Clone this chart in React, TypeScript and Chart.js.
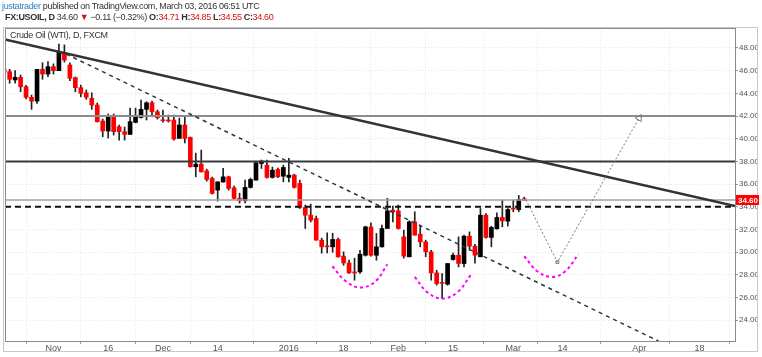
import React, { useEffect, useRef } from "react";
import { Chart, registerables } from "chart.js";
Chart.register(...registerables);

// Trading-day index of the first candle (0 = Nov 2, 2015)
const FIRST_INDEX = -9;

const opens = [
  46.12, 45.91, 45.18, 45.41, 44.58, 43.65, 43.32, 46.12, 45.7,
  46.35, 46.0, 47.58, 46.5, 45.38, 44.5, 44.05, 43.56, 42.97, 41.56,
  40.68, 42.0, 41.06, 40.62, 40.38, 41.44, 41.88, 42.59, 43.17, 42.38,
  41.65, 41.65, 41.65, 40.03, 41.21, 40.12, 37.53, 37.76, 37.17, 36.5,
  35.47, 36.18, 36.64, 35.67, 34.74, 34.53, 35.71, 36.35, 37.82, 37.67,
  36.59, 37.29, 36.7, 36.59, 36.79, 36.06, 33.94, 33.26, 32.97, 31.06,
  30.53, 30.47, 31.12, 29.65, 29.05, 28.26, 28.26, 29.73, 32.23, 29.73,
  30.47, 32.09, 33.7, 33.64, 31.35, 29.59, 32.67, 31.59, 30.91, 30.03,
  28.17, 27.3, 27.18, 29.35, 29.73, 29.0, 31.41, 30.53, 29.59, 33.26,
  31.3, 32.06, 33.06, 32.73, 33.85, 33.75, 34.71,
];
const highs = [
  46.3, 46.12, 46.0, 45.62, 44.7, 43.85, 46.12, 46.7, 46.79,
  46.6, 48.35, 48.27, 46.68, 45.45, 44.73, 44.29, 44.05, 43.15, 41.73,
  42.18, 42.18, 41.2, 41.03, 42.7, 42.7, 43.41, 43.26, 43.32, 42.53,
  42.53, 42.09, 42.09, 41.82, 41.91, 40.15, 38.73, 39.0, 37.32, 36.62,
  36.2, 37.38, 36.7, 35.82, 35.2, 36.35, 36.53, 37.99, 38.12, 38.12,
  37.5, 37.41, 37.67, 38.27, 36.88, 36.35, 34.15, 34.24, 33.18, 31.24,
  31.7, 31.67, 31.24, 30.03, 29.3, 29.47, 30.17, 32.29, 32.59, 31.65,
  32.38, 34.74, 34.06, 34.15, 31.94, 32.76, 33.56, 32.38, 31.06, 30.17,
  28.41, 28.12, 29.0, 29.91, 31.35, 31.5, 31.79, 30.7, 33.85, 33.41,
  32.29, 33.47, 34.59, 33.85, 34.59, 35.0, 34.85,
];
const lows = [
  45.7, 44.89, 44.89, 44.14, 43.5, 42.59, 43.12, 45.24, 45.47,
  45.7, 46.0, 46.76, 45.11, 44.14, 43.7, 43.47, 42.59, 41.47, 40.17,
  40.06, 40.32, 39.88, 39.88, 40.38, 41.4, 41.82, 41.65, 42.09, 41.73,
  41.47, 41.47, 39.88, 40.03, 39.62, 37.5, 36.64, 37.06, 36.26, 35.12,
  34.5, 36.18, 35.47, 34.65, 34.32, 34.35, 35.65, 36.35, 37.38, 36.53,
  36.53, 36.56, 36.2, 36.2, 35.65, 33.85, 32.09, 32.67, 31.06, 29.91,
  29.94, 29.99, 29.56, 28.85, 28.12, 27.53, 28.12, 29.65, 29.65, 29.29,
  30.44, 32.09, 32.67, 32.03, 29.47, 29.59, 31.5, 30.47, 29.59, 27.53,
  27.09, 25.91, 27.09, 29.29, 28.7, 28.7, 30.17, 29.03, 29.59, 31.24,
  30.47, 32.03, 32.23, 32.3, 33.56, 33.56, 34.55,
];
const closes = [
  45.86, 45.24, 45.41, 44.58, 43.65, 43.32, 46.12, 45.7, 46.35,
  46.0, 47.67, 46.94, 45.33, 44.5, 44.0, 43.65, 42.97, 41.5, 40.68,
  42.0, 40.62, 40.62, 40.38, 41.5, 42.0, 42.59, 43.17, 42.38, 41.85,
  41.59, 41.56, 39.97, 41.21, 40.03, 37.53, 37.76, 37.08, 36.41, 35.18,
  36.2, 36.64, 35.62, 34.74, 34.53, 35.71, 36.41, 37.88, 38.03, 36.59,
  37.23, 36.64, 37.47, 36.79, 35.71, 33.94, 33.26, 32.82, 31.06, 30.47,
  30.47, 31.12, 29.59, 29.05, 28.17, 28.17, 29.82, 32.23, 29.73, 30.47,
  32.09, 33.64, 33.56, 32.09, 29.65, 32.67, 31.5, 30.91, 30.03, 28.17,
  27.24, 27.24, 29.0, 29.73, 29.0, 31.41, 30.53, 29.73, 33.26, 31.3,
  32.18, 33.06, 32.76, 33.76, 33.8, 34.65, 34.6,
];

const xTickIndex = [0, 10, 20, 30, 43, 53, 63, 73, 84, 93, 107, 118];
const xTickLabels = ["Nov", "16", "Dec", "14", "2016", "18", "Feb", "15", "Mar", "14", "Apr", "18"];
const yTicks = [24, 26, 28, 30, 32, 34, 36, 38, 40, 42, 44, 46, 48];

const X_MIN = -8.85;
const X_MAX = 124.5;
const Y_MIN = 22.17;
const Y_MAX = 49.76;

const lastPrice = 34.6;
const levelGray = 42.0;
const levelDark = 38.0;
const levelDashed = 34.0;

const mainTrend = [{ x: -8.85, y: 48.74 }, { x: 124.5, y: 34.07 }];
const dashedTrend = [{ x: 2.3, y: 47.47 }, { x: 110.5, y: 22.17 }];
const projection = [{ x: 86.3, y: 34.6 }, { x: 92.05, y: 29.12 }, { x: 107.0, y: 41.82 }];
const leftShoulder = [
  { x: 50.95, y: 28.76 }, { x: 53.4, y: 27.44 }, { x: 56.1, y: 26.88 }, { x: 58.85, y: 27.44 }, { x: 61.0, y: 28.94 },
];
const headArc = [
  { x: 66.0, y: 27.82 }, { x: 68.3, y: 26.47 }, { x: 71.0, y: 25.91 }, { x: 73.8, y: 26.47 }, { x: 76.2, y: 27.97 },
];
const rightShoulder = [
  { x: 86.0, y: 29.64 }, { x: 88.4, y: 28.32 }, { x: 91.1, y: 27.82 }, { x: 93.5, y: 28.32 }, { x: 95.9, y: 29.82 },
];

const FONT = "'Liberation Sans', Arial, sans-serif";

export default function App() {
  const ref = useRef<HTMLCanvasElement>(null);

  useEffect(() => {
    const days = opens.map((_, k) => FIRST_INDEX + k);
    const bodies = days.map((d, k) => ({ x: d, y: [opens[k], closes[k]] }));
    const wicks = days.map((d, k) => ({ x: d, y: [lows[k], highs[k]] }));
    const bodyColors = days.map((_, k) => (closes[k] >= opens[k] ? "#000000" : "#ff0000"));
    const hline = (v: number) => [{ x: X_MIN, y: v }, { x: X_MAX, y: v }];

    const lineDs = (data: any[], color: string, width: number, dash: number[], order: number, extra: any = {}) => ({
      type: "line",
      data,
      borderColor: color,
      borderWidth: width,
      borderDash: dash,
      pointRadius: 0,
      fill: false,
      order,
      ...extra,
    });

    const framePlugin = {
      id: "frame",
      beforeDraw(chart: any) {
        const { ctx } = chart;
        ctx.save();
        ctx.fillStyle = "#ffffff";
        ctx.fillRect(0, 0, chart.width, chart.height);
        ctx.strokeStyle = "#c8c8c8";
        ctx.lineWidth = 1;
        ctx.strokeRect(3.5, 27.5, 754, 324);
        ctx.restore();
      },
      afterDraw(chart: any) {
        const { ctx, chartArea: a, scales } = chart;
        ctx.save();
        ctx.strokeStyle = "#8a8a8a";
        ctx.lineWidth = 1;
        ctx.beginPath();
        ctx.moveTo(a.left + 0.5, a.bottom);
        ctx.lineTo(a.left + 0.5, a.top + 0.5);
        ctx.lineTo(a.right, a.top + 0.5);
        ctx.stroke();
        const y = scales.y.getPixelForValue(lastPrice);
        ctx.fillStyle = "#ff0000";
        ctx.fillRect(a.right + 1, y - 5, 23, 10);
        ctx.fillStyle = "#ffffff";
        ctx.font = `bold 8px ${FONT}`;
        ctx.textBaseline = "middle";
        ctx.textAlign = "left";
        ctx.fillText(lastPrice.toFixed(2), a.right + 3, y + 0.5);
        ctx.restore();
      },
    };

    const chart = new Chart(ref.current as HTMLCanvasElement, {
      type: "bar",
      data: {
        datasets: [
          {
            type: "bar",
            data: wicks as any,
            backgroundColor: "#222222",
            barThickness: 1,
            grouped: false,
            minBarLength: 1,
            order: 11,
          } as any,
          {
            type: "bar",
            data: bodies as any,
            backgroundColor: bodyColors,
            barThickness: 4,
            grouped: false,
            minBarLength: 1,
            order: 10,
          } as any,
          lineDs(hline(levelGray), "#8c8c8c", 2, [], 6),
          lineDs(hline(levelDark), "#3a3a3a", 2, [], 5),
          lineDs(hline(lastPrice), "#a0a0a0", 1.5, [], 7),
          lineDs(hline(levelDashed), "#111111", 2, [6, 4], 4),
          lineDs(mainTrend, "#333333", 2.5, [], 3),
          lineDs(dashedTrend, "#333333", 1.5, [4, 4], 3),
          lineDs(projection, "#6f805c", 1, [2, 2], 2, {
            pointRadius: [0, 2, 4],
            pointStyle: ["circle", "rect", "triangle"],
            pointRotation: [0, 0, 30],
            pointBackgroundColor: "rgba(0,0,0,0)",
            pointBorderColor: "#6f805c",
            pointBorderWidth: 1,
          }),
          lineDs(leftShoulder, "#ff00ff", 2, [3, 3], 1, { tension: 0.4 }),
          lineDs(headArc, "#ff00ff", 2, [3, 3], 1, { tension: 0.4 }),
          lineDs(rightShoulder, "#ff00ff", 2, [3, 3], 1, { tension: 0.4 }),
        ] as any,
      },
      options: {
        responsive: false,
        maintainAspectRatio: false,
        animation: false,
        layout: { padding: { top: 28, left: 4, right: 5, bottom: 4 } },
        plugins: { legend: { display: false }, tooltip: { enabled: false }, title: { display: false } },
        scales: {
          x: {
            type: "linear",
            min: X_MIN,
            max: X_MAX,
            offset: false,
            afterBuildTicks: (s: any) => {
              s.ticks = xTickIndex.map((v) => ({ value: v }));
            },
            afterFit: (s: any) => {
              s.height = 12;
            },
            ticks: {
              autoSkip: false,
              maxRotation: 0,
              padding: -1,
              color: "#555555",
              font: { size: 9, family: FONT },
              callback: (v: any) => {
                const k = xTickIndex.indexOf(Number(v));
                return k >= 0 ? xTickLabels[k] : "";
              },
            },
            grid: { color: "#e4e9ed", tickLength: 3, tickColor: "#9a9a9a" },
            border: { display: true, color: "#8a8a8a", dash: [1, 2] },
          },
          y: {
            type: "linear",
            position: "right",
            min: Y_MIN,
            max: Y_MAX,
            afterBuildTicks: (s: any) => {
              s.ticks = yTicks.map((v) => ({ value: v }));
            },
            afterFit: (s: any) => {
              s.width = 22;
            },
            ticks: {
              padding: 1,
              color: "#555555",
              font: { size: 8, family: FONT },
              callback: (v: any) => Number(v).toFixed(2),
            },
            grid: { color: "#dfe6ea", tickLength: 3, tickColor: "#9a9a9a" },
            border: { display: true, color: "#8a8a8a", dash: [1, 2] },
          },
        },
      } as any,
      plugins: [framePlugin],
    });
    return () => chart.destroy();
  }, []);

  const red = "#d01414";
  return (
    <div style={{ position: "relative", width: 762, height: 357, overflow: "hidden", background: "#fff", fontFamily: FONT }}>
      <style>{`body{margin:0;}`}</style>
      <canvas ref={ref} width={762} height={357} style={{ position: "absolute", left: 0, top: 0, width: 762, height: 357 }} />
      <div style={{ position: "absolute", left: 2, top: 1, fontSize: 9, letterSpacing: -0.35, color: "#333", whiteSpace: "nowrap", lineHeight: "11px" }}>
        <span style={{ color: "#2f7ec1" }}>justatrader</span> published on TradingView.com, March 03, 2016 06:51 UTC
      </div>
      <div style={{ position: "absolute", left: 5, top: 12, fontSize: 9, letterSpacing: -0.35, color: "#333", whiteSpace: "nowrap", lineHeight: "11px" }}>
        <b>FX:USOIL, D</b> 34.60 <span style={{ color: red }}>▼</span> −0.11 (−0.32%) <b>O:</b>
        <span style={{ color: red }}>34.71</span> <b>H:</b>
        <span style={{ color: red }}>34.85</span> <b>L:</b>
        <span style={{ color: red }}>34.55</span> <b>C:</b>
        <span style={{ color: red }}>34.60</span>
      </div>
      <div style={{ position: "absolute", left: 10, top: 30, fontSize: 9, letterSpacing: -0.3, color: "#333", whiteSpace: "nowrap", lineHeight: "11px" }}>
        Crude Oil (WTI), D, FXCM
      </div>
    </div>
  );
}
